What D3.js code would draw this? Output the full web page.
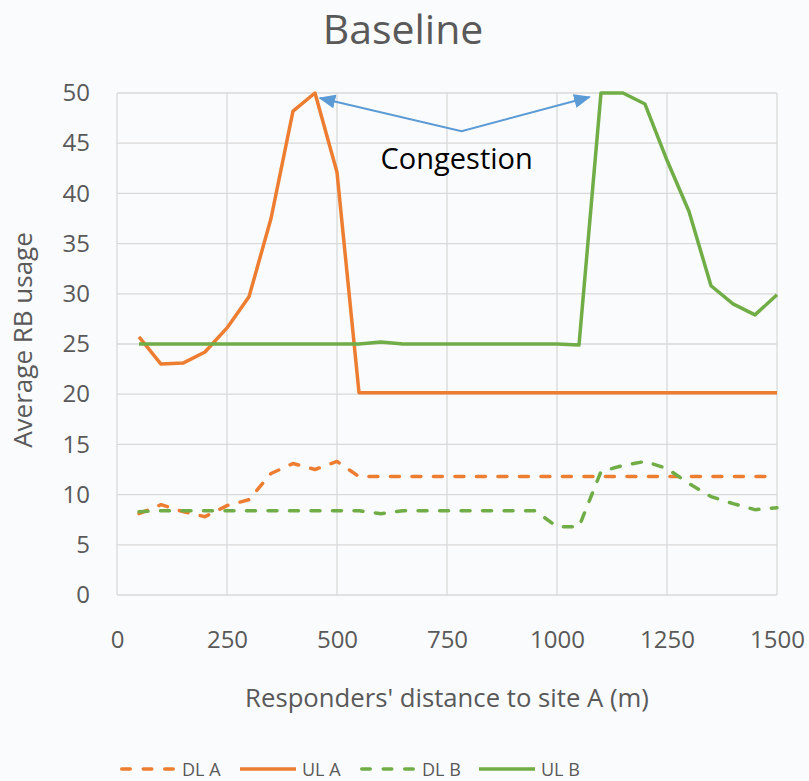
<!DOCTYPE html>
<html>
<head>
<meta charset="utf-8">
<script src="https://cdn.jsdelivr.net/npm/d3@7"></script>
<style>
  html, body { margin: 0; padding: 0; background: #fafbfd; }
  svg { display: block; }
  text { font-family: "Open Sans", "Noto Sans", sans-serif; }
</style>
</head>
<body>
<script>
// ---- data ----
const distances = [50,100,150,200,250,300,350,400,450,500,550,600,650,700,750,800,850,900,950,1000,1050,1100,1150,1200,1250,1300,1350,1400,1450,1500];
const dlA = [8.1,9.0,8.3,7.8,8.9,9.5,12.1,13.1,12.5,13.3,11.8,11.8,11.8,11.8,11.8,11.8,11.8,11.8,11.8,11.8,11.8,11.8,11.8,11.8,11.8,11.8,11.8,11.8,11.8,11.8];
const ulA = [25.7,23.0,23.1,24.2,26.6,29.7,37.5,48.2,50.0,42.1,20.15,20.15,20.15,20.15,20.15,20.15,20.15,20.15,20.15,20.15,20.15,20.15,20.15,20.15,20.15,20.15,20.15,20.15,20.15,20.15];
const dlB = [8.3,8.4,8.4,8.4,8.4,8.4,8.4,8.4,8.4,8.4,8.4,8.1,8.4,8.4,8.4,8.4,8.4,8.4,8.4,6.8,6.8,12.3,12.9,13.3,12.6,11.1,9.8,9.1,8.5,8.7];
const ulB = [25.0,25.0,25.0,25.0,25.0,25.0,25.0,25.0,25.0,25.0,25.0,25.2,25.0,25.0,25.0,25.0,25.0,25.0,25.0,25.0,24.9,50.0,50.0,48.9,43.3,38.2,30.8,29.0,27.9,29.9];
const seriesNames = ["DL A","UL A","DL B","UL B"];
const xTicks = [0,250,500,750,1000,1250,1500];
const yTicks = [0,5,10,15,20,25,30,35,40,45,50];
const titleText = "Baseline";
const xTitle = "Responders' distance to site A (m)";
const yTitle = "Average RB usage";
const annotationText = "Congestion";
// annotation arrow (data units): left tip, vertex, right tip
const arrowPts = [[461,49.5],[783,46.2],[1074,49.6]];
const annotationPos = [772, 42.4];

// ---- drawing ----
const W = 809, H = 781;
const ORANGE = "#ED7D31", GREEN = "#70AD47", GRID = "#d9d9d9", TXT = "#595959";
const svg = d3.select("body").append("svg").attr("width", W).attr("height", H);
svg.append("rect").attr("width", W).attr("height", H).attr("fill", "#fafbfd");

const x = d3.scaleLinear().domain([0,1500]).range([117, 777]);
const y = d3.scaleLinear().domain([0,50]).range([595, 93]);

// gridlines
const grid = svg.append("g");
grid.selectAll("line.h").data(yTicks).join("line")
  .attr("x1", x(0)).attr("x2", x(1500))
  .attr("y1", d => y(d)).attr("y2", d => y(d))
  .attr("stroke", GRID).attr("stroke-width", 1.3);
grid.selectAll("line.v").data(xTicks).join("line")
  .attr("y1", y(0)).attr("y2", y(50))
  .attr("x1", d => x(d)).attr("x2", d => x(d))
  .attr("stroke", GRID).attr("stroke-width", 1.3);

// axes
const yAxis = svg.append("g").attr("transform", `translate(${x(0)},0)`)
  .call(d3.axisLeft(y).tickValues(yTicks).tickFormat(d3.format("d")).tickSize(0).tickPadding(27));
const xAxis = svg.append("g").attr("transform", `translate(0,${y(0)})`)
  .call(d3.axisBottom(x).tickValues(xTicks).tickFormat(d3.format("d")).tickSize(0).tickPadding(36));
[yAxis, xAxis].forEach(a => {
  a.select(".domain").remove();
  a.selectAll("text").attr("fill", TXT).style("font-size", "24px")
    .style("font-family", '"Open Sans", sans-serif');
});

// lines
const line = d3.line().x((d,i) => x(distances[i])).y(d => y(d));
const series = [
  {name: seriesNames[0], values: dlA, color: ORANGE, dash: true},
  {name: seriesNames[1], values: ulA, color: ORANGE, dash: false},
  {name: seriesNames[2], values: dlB, color: GREEN, dash: true},
  {name: seriesNames[3], values: ulB, color: GREEN, dash: false}
];
svg.append("g").selectAll("path").data(series).join("path")
  .attr("d", d => line(d.values))
  .attr("fill", "none")
  .attr("stroke", d => d.color)
  .attr("stroke-width", 3.5)
  .attr("stroke-linejoin", "round")
  .attr("stroke-linecap", d => d.dash ? "round" : "butt")
  .attr("stroke-dasharray", d => d.dash ? "9,12.5" : null);

// annotation arrow
const defs = svg.append("defs");
defs.append("marker").attr("id", "ah").attr("viewBox", "0 0 12 10")
  .attr("refX", 11).attr("refY", 5).attr("markerWidth", 8.5).attr("markerHeight", 7)
  .attr("markerUnits", "strokeWidth").attr("orient", "auto-start-reverse")
  .append("path").attr("d", "M0,0 L12,5 L0,10 z").attr("fill", "#5B9BD5");
svg.append("path")
  .attr("d", d3.line().x(d => x(d[0])).y(d => y(d[1]))(arrowPts))
  .attr("fill", "none").attr("stroke", "#5B9BD5").attr("stroke-width", 2)
  .attr("marker-start", "url(#ah)").attr("marker-end", "url(#ah)");
svg.append("text").attr("x", x(annotationPos[0])).attr("y", y(annotationPos[1]))
  .attr("text-anchor", "middle").attr("fill", "#000").style("font-size", "29px")
  .text(annotationText);

// titles
svg.append("text").attr("x", 403).attr("y", 44).attr("text-anchor", "middle")
  .attr("fill", TXT).style("font-size", "41px").text(titleText);
svg.append("text").attr("x", 447).attr("y", 707).attr("text-anchor", "middle")
  .attr("fill", TXT).style("font-size", "25.7px").text(xTitle);
svg.append("text").attr("transform", "translate(32,340) rotate(-90)")
  .attr("text-anchor", "middle").attr("fill", TXT).style("font-size", "26px").text(yTitle);

// legend
const legX = [120, 240, 360, 479];
const leg = svg.append("g");
series.forEach((s, i) => {
  const g = leg.append("g").attr("transform", `translate(${legX[i]},769)`);
  g.append("line").attr("x1", s.dash ? 1.75 : 0).attr("x2", s.dash ? 54 : 56)
    .attr("y1", 0).attr("y2", 0)
    .attr("stroke", s.color).attr("stroke-width", 3.5)
    .attr("stroke-linecap", s.dash ? "round" : "butt")
    .attr("stroke-dasharray", s.dash ? "8.5,13" : null);
  g.append("text").attr("x", 62).attr("y", 6.5).attr("fill", TXT)
    .style("font-size", "18px").text(s.name);
});
</script>
</body>
</html>
